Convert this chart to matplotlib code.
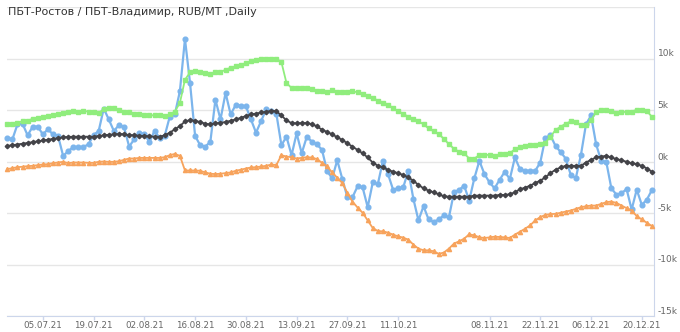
"""
Spread chart: ПБТ-Ростов / ПБТ-Владимир, daily, with moving average and bands.
"""

import matplotlib
matplotlib.use("Agg")
import matplotlib.pyplot as plt
from matplotlib.ticker import FixedLocator, FixedFormatter

TITLE = "ПБТ-Ростов / ПБТ-Владимир, RUB/MT ,Daily"

# trading-day index of labelled dates (ordinal axis, no weekends)
tick_idx = [7, 17, 27, 37, 47, 57, 67, 77, 95, 105, 115, 125]
tick_labels = ["05.07.21", "19.07.21", "02.08.21", "16.08.21", "30.08.21",
               "13.09.21", "27.09.21", "11.10.21", "08.11.21", "22.11.21",
               "06.12.21", "20.12.21"]

# spread, RUB/MT
spread = [2280, 2150, 3600, 3670, 2540, 3380, 3380, 2640, 3120, 2640,
          2480, 550, 1000, 1410, 1410, 1410, 1670, 2570, 2960, 5140,
          4080, 2960, 3540, 3340, 1450, 2150, 2800, 2640, 1900, 2960,
          2310, 2480, 4340, 4570, 6820, 11900, 7620, 2480, 1580, 1450,
          1900, 6010, 4080, 6660, 4570, 5500, 5430, 5370, 4080, 2800,
          3920, 5050, 4950, 4660, 1580, 2410, 610, 2730, 800, 2400,
          1930, 1670, 1130, -930, -1640, 130, -1700, -3470, -3470, -2410,
          -2510, -4440, -2030, -2190, 60, -1220, -2730, -2600, -2510, -900,
          -3630, -5720, -4340, -5630, -5880, -5630, -5240, -5430, -2990, -2760,
          -2350, -3790, -1640, 60, -1220, -2030, -2600, -1770, -1000, -1700,
          390, -740, -900, -900, -900, -100, 2300, 2540, 1510, 930,
          290, -1290, -1610, 610, 3600, 4470, 1670, 60, -30, -2600,
          -3220, -3090, -2670, -4660, -2730, -4210, -3700, -2760]

# moving average
avg = [1510, 1580, 1650, 1720, 1800, 1880, 1960, 2040, 2120, 2200,
       2280, 2350, 2380, 2410, 2410, 2410, 2410, 2410, 2480, 2540,
       2600, 2640, 2670, 2640, 2570, 2540, 2510, 2480, 2440, 2410,
       2410, 2540, 2800, 3120, 3440, 3890, 4020, 3950, 3830, 3670,
       3600, 3700, 3760, 3830, 3950, 4080, 4240, 4400, 4570, 4660,
       4760, 4850, 4920, 4890, 4470, 3990, 3730, 3700, 3730, 3730,
       3630, 3410, 3090, 2860, 2640, 2350, 2090, 1770, 1450, 1130,
       800, 390, -100, -420, -580, -800, -1000, -1130, -1320, -1540,
       -1860, -2280, -2600, -2830, -2990, -3180, -3380, -3410, -3410, -3410,
       -3410, -3410, -3310, -3310, -3310, -3310, -3310, -3250, -3250, -3180,
       -2990, -2700, -2540, -2350, -2090, -1860, -1540, -1130, -800, -580,
       -420, -420, -420, -420, -100, 160, 390, 480, 550, 390,
       230, 130, -30, -160, -260, -420, -680, -1000]

# upper band
upper = [3600, 3630, 3700, 3950, 3950, 4150, 4240, 4310, 4400, 4470,
         4570, 4690, 4790, 4890, 4850, 4890, 4850, 4790, 4730, 5050,
         5180, 5180, 4980, 4820, 4760, 4660, 4570, 4530, 4500, 4470,
         4470, 4400, 4570, 4850, 5690, 7940, 8650, 8740, 8710, 8580,
         8460, 8650, 8680, 8910, 9100, 9230, 9390, 9550, 9710, 9810,
         9930, 10000, 10000, 9970, 9650, 7620, 7140, 7100, 7140, 7100,
         7040, 6850, 6850, 6780, 6910, 6780, 6720, 6780, 6820, 6720,
         6560, 6400, 6170, 5920, 5720, 5530, 5180, 4890, 4630, 4340,
         4150, 3920, 3600, 3220, 2930, 2640, 2220, 1670, 1250, 930,
         800, 290, 290, 610, 640, 640, 580, 680, 770, 800,
         1190, 1410, 1510, 1580, 1610, 1740, 1830, 2410, 3050, 3380,
         3670, 3890, 3830, 3500, 3500, 4020, 4790, 4980, 4980, 4950,
         4730, 4790, 4820, 4850, 5020, 5020, 4890, 4340]

# lower band
lower = [-740, -640, -550, -510, -450, -420, -350, -290, -260, -160,
         -100, -30, -160, -100, -100, -100, -130, -130, -30, 0,
         -30, -30, 30, 160, 290, 290, 350, 350, 350, 350,
         350, 420, 610, 740, 550, -870, -870, -870, -900, -1060,
         -1190, -1220, -1190, -1130, -1060, -900, -800, -680, -580, -550,
         -480, -420, -290, -350, 610, 480, 420, 290, 350, 420,
         390, 230, -130, -480, -1060, -1580, -2090, -3050, -3890, -4470,
         -4980, -5720, -6460, -6750, -6780, -6910, -7100, -7270, -7390, -7590,
         -8070, -8460, -8620, -8620, -8710, -8970, -8840, -8460, -7970, -7750,
         -7490, -7070, -7170, -7360, -7430, -7360, -7300, -7330, -7360, -7430,
         -7100, -6820, -6530, -6200, -5720, -5400, -5180, -5110, -5080, -4980,
         -4860, -4760, -4600, -4440, -4340, -4280, -4280, -4120, -3950, -3890,
         -4020, -4280, -4530, -4760, -5300, -5630, -5950, -6270]

y_ticks = [-15000, -10000, -5000, 0, 5000, 10000, 15000]
y_labels = ["-15k", "-10k", "-5k", "0k", "5k", "10k", ""]

x = list(range(len(spread)))

fig = plt.figure(figsize=(6.8, 3.32), dpi=100)
ax = fig.add_axes([7.3 / 680, 16 / 332, (654 - 7.3) / 680, 309 / 332])

ax.plot(x, spread, color="#7cb5ec", lw=1.6, marker="o", ms=3.4,
        clip_on=False, zorder=3)
ax.plot(x, avg, color="#434348", lw=1.3, marker="D", ms=2.3,
        clip_on=False, zorder=4)
ax.plot(x, upper, color="#90ed7d", lw=1.3, marker="s", ms=3.0,
        clip_on=False, zorder=5)
ax.plot(x, lower, color="#f7a35c", lw=1.3, marker="^", ms=3.0,
        clip_on=False, zorder=6)

ax.set_xlim(0, (654 - 7.3) / 5.076)
ax.set_ylim(-15000, 15000)

for side in ("left", "top"):
    ax.spines[side].set_visible(False)
ax.spines["right"].set_color("#ccd6eb")
ax.spines["bottom"].set_color("#ccd6eb")

ax.xaxis.set_major_locator(FixedLocator(tick_idx))
ax.xaxis.set_major_formatter(FixedFormatter(tick_labels))
ax.tick_params(axis="x", colors="#ccd6eb", length=3, width=1, pad=0.8,
               labelsize=6.3, labelcolor="#666666")

ax.yaxis.tick_right()
ax.yaxis.set_major_locator(FixedLocator(y_ticks))
ax.yaxis.set_major_formatter(FixedFormatter(y_labels))
ax.tick_params(axis="y", length=0, pad=2.5, labelsize=6.5,
               labelcolor="#666666")
for t in ax.get_yticklabels():
    t.set_verticalalignment("bottom")

ax.grid(axis="y", color="#e6e6e6", lw=1)
ax.set_axisbelow(True)

fig.text(8 / 680, 1 - 12 / 332, TITLE, fontsize=8, color="#333333",
         va="center", ha="left")

fig.savefig("out.png", dpi=100)
